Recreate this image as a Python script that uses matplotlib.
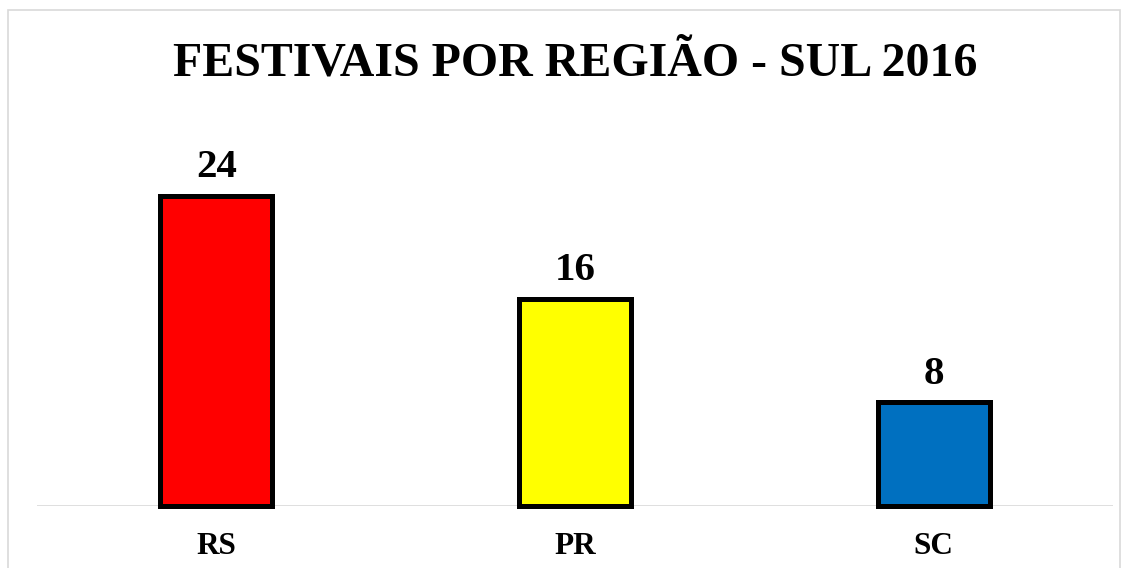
import matplotlib
matplotlib.use("Agg")
import matplotlib.pyplot as plt
from matplotlib.patches import Rectangle

# data
regions = ['RS', 'PR', 'SC']
festivals = [24, 16, 8]
bar_colors = ['#FF0000', '#FFFF00', '#0070C0']

plt.rcParams['font.family'] = ['Liberation Serif', 'DejaVu Serif']
plt.rcParams['font.weight'] = 'bold'

W, H = 1130, 568
fig = plt.figure(figsize=(W / 100, H / 100), dpi=100)

# plot area (pixel based positions)
left, right = 37, 1113
base_y = 505.7
px_per_unit = 12.92
ymax = 28
top = base_y - ymax * px_per_unit
ax = fig.add_axes([left / W, 1 - base_y / H, (right - left) / W, (base_y - top) / H])

x = list(range(len(regions)))
bars = ax.bar(x, festivals, width=0.312, color=bar_colors, edgecolor='black',
              linewidth=3.6, zorder=3, clip_on=False)
ax.bar_label(bars, labels=[str(v) for v in festivals], padding=7,
             fontsize=29.5, fontweight='bold')

ax.axhline(0, color='#D9D9D9', linewidth=1.2, zorder=1)

ax.set_xlim(-0.5, 2.5)
ax.set_ylim(0, ymax)
ax.set_xticks(x)
ax.set_xticklabels(regions, fontsize=22.5, fontweight='bold')
ax.tick_params(axis='x', length=0, pad=19)
ax.set_yticks([])
for s in ax.spines.values():
    s.set_visible(False)

fig.text(575 / W, 1 - 75 / H, 'FESTIVAIS POR REGIÃO - SUL 2016', ha='center', va='baseline',
         fontsize=34.5, fontweight='bold')

# light border around the chart
fig.patches.append(Rectangle((8 / W, -0.1), (1120 - 8) / W, 1.1 - 10 / H, transform=fig.transFigure,
                             fill=False, edgecolor='#D9D9D9', linewidth=1.2))

fig.savefig('out.png', dpi=100, facecolor='white')
